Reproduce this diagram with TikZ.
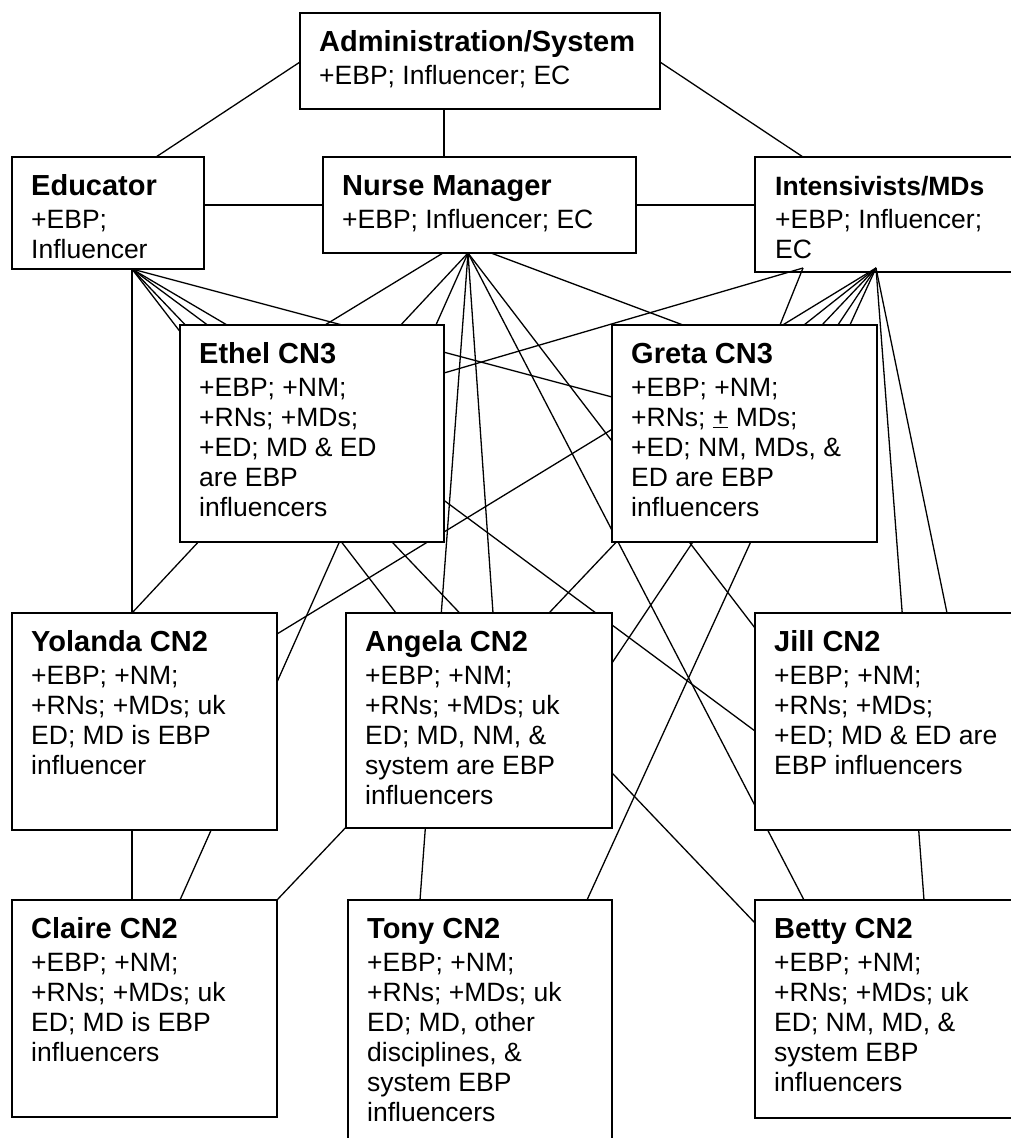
\documentclass[tikz,border=0pt]{standalone}
\usepackage{fontspec}
\setmainfont{Liberation Sans}
\usetikzlibrary{calc}
\pgfdeclarelayer{underlay}
\pgfdeclarelayer{links}
\pgfsetlayers{underlay,links,main}

\tikzset{
  card/.style={draw=black, line width=1.8pt, fill=white, anchor=north west,
               inner sep=0pt, outer sep=0pt},
  cardtext/.style={anchor=base west, inner sep=0pt,
                   font=\fontsize{26.5}{30}\selectfont},
  link/.style={draw=black, line width=1.3pt},
}
\newcommand\cardtitle[1]{{\fontsize{29}{30}\selectfont\bfseries #1}}
% \card{name}{left}{top}{width}{height}{title}{body lines}
\newcommand\card[7]{%
  \node[card, minimum width=#4pt, minimum height=#5pt] (#1) at (#2,#3) {};
  \node[cardtext] (#1-text) at ($(#1.north west)+(19,38)$)
    {\begin{tabular}[t]{@{}l@{}}\cardtitle{#6}\\[3pt] #7\end{tabular}};%
}

\begin{document}
\begin{tikzpicture}[x=1pt, y=-1pt]
\useasboundingbox (0,0) rectangle (1010,1138);
\begin{pgfonlayer}{underlay}
  \fill[white] (0,0) rectangle (1010,1138);
\end{pgfonlayer}

% ---------- boxes ----------
\card{admin}{300}{13}{360}{96}{Administration/System}{+EBP; Influencer; EC}
\card{edu}{12}{157}{192}{112}{Educator}{+EBP;\\ Influencer}
\card{nm}{323}{157}{313}{96}{Nurse Manager}{+EBP; Influencer; EC}
\begin{pgfonlayer}{underlay}
  \node[card, minimum width=300pt, minimum height=115pt] (int) at (755,157) {};
\end{pgfonlayer}
\node[cardtext] (int-text) at ($(int.north west)+(20,38)$)
  {\begin{tabular}[t]{@{}l@{}}{\bfseries Intensivists/MDs}\\[3pt] +EBP; Influencer;\\ EC\end{tabular}};

\card{ethel}{180}{325}{264}{217}{Ethel CN3}{+EBP; +NM;\\ +RNs; +MDs;\\ +ED; MD \& ED\\ are EBP\\ influencers}
\card{greta}{612}{325}{265}{217}{Greta CN3}{+EBP; +NM;\\ +RNs; \underline{+} MDs;\\ +ED; NM, MDs, \&\\ ED are EBP\\ influencers}

\card{yol}{12}{613}{265}{217}{Yolanda CN2}{+EBP; +NM;\\ +RNs; +MDs; uk\\ ED; MD is EBP\\ influencer}
\card{ang}{346}{613}{266}{215}{Angela CN2}{+EBP; +NM;\\ +RNs; +MDs; uk\\ ED; MD, NM, \&\\ system are EBP\\ influencers}
\card{jill}{755}{613}{300}{217}{Jill CN2}{+EBP; +NM;\\ +RNs; +MDs;\\ +ED; MD \& ED are\\ EBP influencers}

\card{claire}{12}{900}{265}{217}{Claire CN2}{+EBP; +NM;\\ +RNs; +MDs; uk\\ ED; MD is EBP\\ influencers}
\card{tony}{348}{900}{264}{280}{Tony CN2}{+EBP; +NM;\\ +RNs; +MDs; uk\\ ED; MD, other\\ disciplines, \&\\ system EBP\\ influencers}
\card{betty}{755}{900}{300}{218}{Betty CN2}{+EBP; +NM;\\ +RNs; +MDs; uk\\ ED; NM, MD, \&\\ system EBP\\ influencers}

% ---------- connectors (behind the boxes) ----------
\begin{pgfonlayer}{links}
  % fan points
  \coordinate (E0) at ($(edu.south west)+(120,0)$);
  \coordinate (N0) at ($(nm.south west)+(145,0)$);
  \coordinate (NL) at ($(nm.south west)+(120,0)$);
  \coordinate (NR) at ($(nm.south west)+(168,0)$);
  \coordinate (I0) at ($(int.south west)+(121,-4)$);
  \coordinate (I1) at ($(int.south west)+(48,-4)$);

  % top tier
  \draw[link] ($(admin.north west)+(0,49)$) -- ($(edu.north west)+(144,0)$);
  \draw[link] ($(admin.south west)+(144,0)$) -- ($(nm.north west)+(121,0)$);
  \draw[link] ($(admin.north east)+(0,49)$) -- ($(int.north west)+(48,0)$);
  \draw[link] ($(edu.north east)+(0,48)$) -- ($(nm.north west)+(0,48)$);
  \draw[link] ($(nm.north east)+(0,48)$) -- ($(int.north west)+(0,48)$);

  % educator
  \draw[link] (E0) -- ($(claire.north west)+(120,0)$);
  \draw[link] (E0) -- ($(ang.north west)+(50,0)$);
  \draw[link] (E0) -- ($(betty.north west)+(0,23)$);
  \draw[link] (E0) -- ($(ethel.north west)+(47,0)$);
  \draw[link] (E0) -- ($(jill.north west)+(0,118)$);
  \draw[link] (E0) -- ($(greta.north west)+(0,72)$);

  % nurse manager
  \draw[link] (N0) -- ($(yol.north west)+(120,0)$);
  \draw[link] (N0) -- ($(claire.north west)+(168,0)$);
  \draw[link] (N0) -- ($(tony.north west)+(72,0)$);
  \draw[link] (N0) -- ($(ang.north west)+(147,0)$);
  \draw[link] (N0) -- ($(betty.north west)+(49,0)$);
  \draw[link] (N0) -- ($(jill.north west)+(0,15)$);
  \draw[link] (NL) -- ($(ethel.north west)+(145,0)$);
  \draw[link] (NR) -- ($(greta.north west)+(71,0)$);

  % intensivists
  \draw[link] (I0) -- ($(yol.north east)+(0,21)$);
  \draw[link] (I0) -- (claire.north east);
  \draw[link] (I0) -- ($(ang.north east)+(0,50)$);
  \draw[link] (I0) -- ($(tony.north west)+(239,0)$);
  \draw[link] (I0) -- ($(greta.north west)+(192,0)$);
  \draw[link] (I0) -- ($(jill.north west)+(192,0)$);
  \draw[link] (I0) -- ($(betty.north west)+(169,0)$);
  \draw[link] (I1) -- ($(ethel.north east)+(0,48)$);
  \draw[link] (I1) -- ($(greta.north west)+(168,0)$);
\end{pgfonlayer}
\end{tikzpicture}
\end{document}
